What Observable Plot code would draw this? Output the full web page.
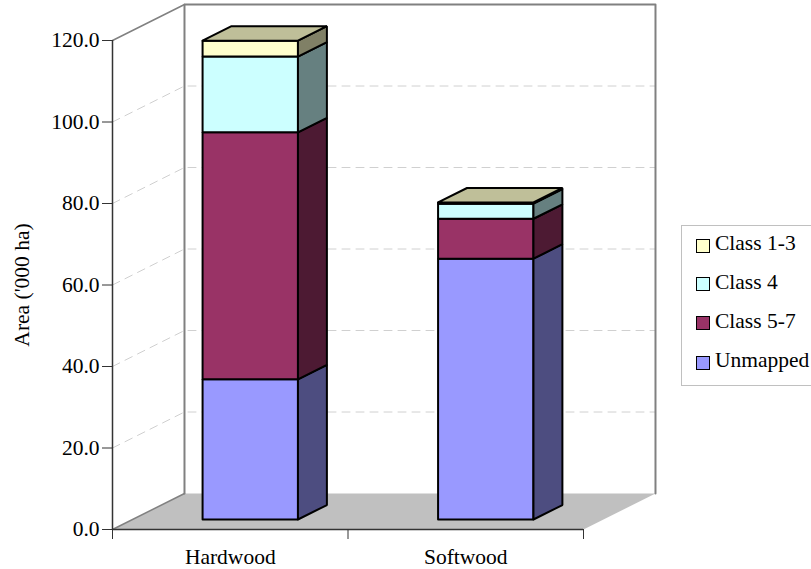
<!DOCTYPE html>
<html>
<head>
<meta charset="utf-8">
<script src="https://cdn.jsdelivr.net/npm/d3@7"></script>
<script src="https://cdn.jsdelivr.net/npm/@observablehq/plot@0.6"></script>
<style>
  html, body { margin: 0; padding: 0; background: #fff; width: 811px; height: 569px; overflow: hidden; }
  #chart { position: relative; width: 811px; height: 569px; overflow: hidden; font-family: "Liberation Serif", serif; }
  #chart svg { display: block; position: absolute; left: 0; top: 0; }
  .legend { position: absolute; left: 681px; top: 225px; width: 160px; height: 159px; border: 1px solid #c0c0c0; background: #fff; }
  .legend .row { position: absolute; left: 14px; height: 22px; display: flex; align-items: center; white-space: nowrap; font-size: 21.5px; color: #000; }
  .legend .swatch { width: 12px; height: 12px; border: 1.6px solid #000; margin-right: 5px; flex: none; }
  .legend .name { position: relative; top: -2px; }
</style>
</head>
<body>
<div id="chart"></div>
<script>
const categories = ["Hardwood", "Softwood"];
const seriesNames = ["Unmapped", "Class 5-7", "Class 4", "Class 1-3"];
const unmapped = [34.4, 64.0];
const class57 = [60.6, 9.8];
const class4 = [18.6, 3.7];
const class13 = [3.9, 0.3];
const seriesValues = [unmapped, class57, class4, class13];
const frontFills = ["#9999ff", "#993366", "#ccffff", "#ffffcc"];
const sideFills = ["#4d4d80", "#4d1a33", "#668080", "#808066"];
const topFill = "#bfbf99";
const yTicks = [0, 20, 40, 60, 80, 100, 120];

// Oblique projection: depth 1 is the back wall; one depth unit moves
// a point right and up by these amounts in data units.
const depthX = 0.3057;
const depthY = 8.834;
const barDepthStart = 0.278;
const barDepthEnd = 0.68;
const barWidth = 0.405;

const project = (pos, value, depth = 0) => ({x: pos + depth * depthX, y: value + depth * depthY});

// Closed polygons, each with a face id and a fill colour
const polygons = [];
function addFace(id, fill, corners) {
  for (const c of [...corners, corners[0]]) polygons.push({id, fill, ...project(...c)});
}

categories.forEach((cat, i) => {
  const left = i + 0.5 - barWidth / 2;
  const right = i + 0.5 + barWidth / 2;
  let base = 0;
  seriesValues.forEach((vals, s) => {
    const top = base + vals[i];
    const id = `${cat}-${seriesNames[s]}`;
    addFace(id + "-front", frontFills[s], [[left, base, barDepthStart], [right, base, barDepthStart], [right, top, barDepthStart], [left, top, barDepthStart]]);
    addFace(id + "-side", sideFills[s], [[right, base, barDepthStart], [right, base, barDepthEnd], [right, top, barDepthEnd], [right, top, barDepthStart]]);
    if (s === seriesValues.length - 1) {
      addFace(id + "-top", topFill, [[left, top, barDepthStart], [right, top, barDepthStart], [right, top, barDepthEnd], [left, top, barDepthEnd]]);
    }
    base = top;
  });
});

const floor = [[0, 0, 0], [0, 0, 1], [2, 0, 1], [2, 0, 0], [0, 0, 0]].map((c) => project(...c));
const backWall = [[0, 0, 1], [0, 120, 1], [2, 120, 1], [2, 0, 1]].map((c) => project(...c));
const sideTop = [[0, 120, 0], [0, 120, 1]].map((c) => project(...c));
const sideBottom = [[0, 0, 0], [0, 0, 1]].map((c) => project(...c));
const gridPaths = yTicks.slice(1, -1).flatMap((v) =>
  [[0, v, 0], [0, v, 1], [2, v, 1]].map((c) => ({v, ...project(...c)}))
);

const xy = {x: "x", y: "y"};
const plot = Plot.plot({
  width: 811,
  height: 569,
  marginLeft: 112,
  marginRight: 228,
  marginTop: 40,
  marginBottom: 40,
  style: {fontFamily: "'Liberation Serif', serif", background: "transparent", overflow: "visible", color: "#000"},
  x: {domain: [0, 2], axis: null, label: null},
  y: {domain: [0, 120], axis: null, label: null},
  marks: [
    Plot.line(floor, {...xy, fill: "#c0c0c0", stroke: "none"}),
    Plot.line(gridPaths, {...xy, z: "v", stroke: "#d0d0d0", strokeWidth: 1, strokeDasharray: "8 6"}),
    Plot.line(backWall, {...xy, stroke: "#808080", strokeWidth: 2}),
    Plot.line(sideTop, {...xy, stroke: "#808080", strokeWidth: 1.5}),
    Plot.line(sideBottom, {...xy, stroke: "#808080", strokeWidth: 1.5}),
    Plot.line(polygons, {...xy, z: "id", fill: "fill", stroke: "#000", strokeWidth: 2, strokeLinejoin: "miter"}),
    Plot.ruleX([0], {stroke: "#333", strokeWidth: 1.5}),
    Plot.ruleY([0], {stroke: "#333", strokeWidth: 1.5}),
    Plot.axisY({
      ticks: yTicks,
      tickFormat: (d) => d.toFixed(1),
      tickSize: 10,
      tickPadding: 3,
      fontSize: 21.5,
      stroke: "#333",
      label: "Area ('000 ha)",
      labelAnchor: "center",
      labelArrow: "none",
      labelOffset: 99
    }),
    Plot.axisX({ticks: [0, 1, 2], tickFormat: () => "", tickSize: 10, stroke: "#333", label: null}),
    Plot.text(categories, {
      x: (d, i) => i + 0.5,
      y: 0,
      text: (d) => d,
      dy: 28,
      fontSize: 21.5,
      fill: "#000"
    })
  ]
});

const chart = document.getElementById("chart");
chart.appendChild(plot);

// Legend listed top-down, with the last stacked series first
const legend = document.createElement("div");
legend.className = "legend";
[3, 2, 1, 0].forEach((s, row) => {
  const item = document.createElement("div");
  item.className = "row";
  item.style.top = `${[8.5, 47, 86, 125.5][row]}px`;
  const swatch = document.createElement("span");
  swatch.className = "swatch";
  swatch.style.background = frontFills[s];
  const name = document.createElement("span");
  name.className = "name";
  name.textContent = seriesNames[s];
  item.append(swatch, name);
  legend.appendChild(item);
});
chart.appendChild(legend);
</script>
</body>
</html>
